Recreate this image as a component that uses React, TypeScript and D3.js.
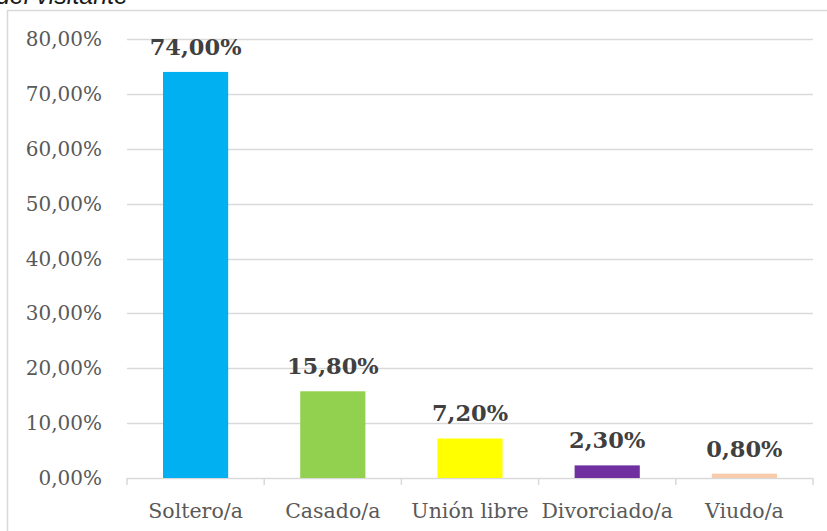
import React from "react";
import * as d3 from "d3";

const categories = ["Soltero/a", "Casado/a", "Unión libre", "Divorciado/a", "Viudo/a"];
const values = [0.74, 0.158, 0.072, 0.023, 0.008];
const valueLabels = ["74,00%", "15,80%", "7,20%", "2,30%", "0,80%"];
const barColors = ["#00B0F0", "#92D050", "#FFFF00", "#7030A0", "#F8CBAD"];
const yTicks = [0, 0.1, 0.2, 0.3, 0.4, 0.5, 0.6, 0.7, 0.8];
const titleText = "del visitante";

const W = 827;
const H = 531;

export default function App() {
  const x = d3
    .scaleBand<string>()
    .domain(categories)
    .range([127, 813])
    .paddingInner(0.525)
    .paddingOuter(0.2625);
  const y = d3.scaleLinear().domain([0, 0.8]).range([478, 39]);
  const step = x.step();
  const x0 = 127;
  const fmt = (v: number) => (v * 100).toFixed(2).replace(".", ",") + "%";

  return (
    <svg
      width={W}
      height={H}
      style={{ position: "absolute", left: 0, top: 0, background: "#fff" }}
    >
      <text
        x={128}
        y={4}
        textAnchor="end"
        fontFamily="Liberation Sans, Arial, sans-serif"
        fontStyle="italic"
        fontSize={25}
        fill="#1a1a1a"
      >
        {titleText}
      </text>
      <rect x={7.5} y={10.5} width={W} height={H} fill="#fff" stroke="#D9D9D9" strokeWidth={1.5} />
      {yTicks.map((t) => (
        <g key={t}>
          <line x1={x0} x2={813} y1={Math.round(y(t)) + 0.5} y2={Math.round(y(t)) + 0.5} stroke="#D9D9D9" strokeWidth={1.5} />
          <text
            x={102}
            y={y(t)}
            dy="0.35em"
            textAnchor="end"
            fontFamily="DejaVu Serif, serif"
            fontSize={20}
            fill="#595959"
          >
            {fmt(t)}
          </text>
        </g>
      ))}
      {d3.range(categories.length + 1).map((i) => (
        <line
          key={i}
          x1={x0 + i * step}
          x2={x0 + i * step}
          y1={y(0)}
          y2={y(0) + 7}
          stroke="#D9D9D9"
          strokeWidth={1.5}
        />
      ))}
      {categories.map((c, i) => (
        <g key={c}>
          <rect
            x={x(c)}
            y={y(values[i])}
            width={x.bandwidth()}
            height={y(0) - y(values[i])}
            fill={barColors[i]}
          />
          <text
            x={(x(c) as number) + x.bandwidth() / 2}
            y={y(values[i]) - 17}
            textAnchor="middle"
            fontFamily="DejaVu Serif, serif"
            fontWeight="bold"
            fontSize={22.5}
            fill="#404040"
          >
            {valueLabels[i]}
          </text>
          <text
            x={(x(c) as number) + x.bandwidth() / 2}
            y={518}
            textAnchor="middle"
            fontFamily="DejaVu Serif, serif"
            fontSize={20.5}
            fill="#595959"
          >
            {c}
          </text>
        </g>
      ))}
    </svg>
  );
}
